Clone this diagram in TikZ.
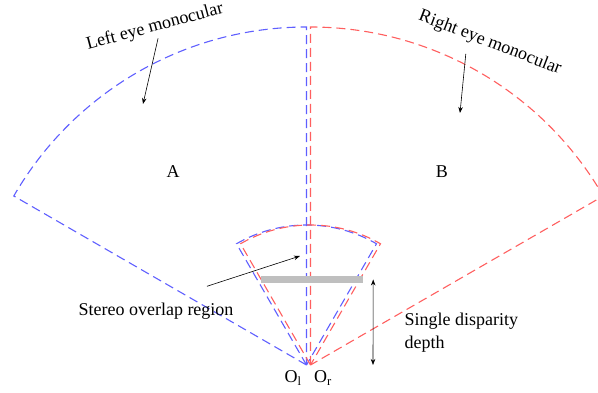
\documentclass[tikz,border=0pt]{standalone}
\usepackage{fontspec}
\setmainfont{Liberation Serif}
\usetikzlibrary{arrows.meta}
\definecolor{lefteye}{RGB}{95,95,255}
\definecolor{righteye}{RGB}{255,95,95}

\begin{document}
\begin{tikzpicture}[x=1pt,y=1pt,
  lbl/.style={font=\fontsize{18}{23}\selectfont},
  fov/.style={dash pattern=on 9pt off 5pt,line width=1.1pt},
  ptr/.style={-{Stealth[length=6pt,width=4.5pt]},line width=0.6pt}]
  \useasboundingbox (0,0) rectangle (598,393);
  \coordinate (ol) at (306.5,28);
  \coordinate (or) at (310.5,28);
  % monocular fields
  \draw[fov,lefteye] (ol) -- ++(150:338) arc[start angle=150,end angle=90,radius=338] -- cycle;
  \draw[fov,righteye] (or) -- ++(90:338) arc[start angle=90,end angle=30,radius=338] -- cycle;
  % overlap fields
  \draw[fov,lefteye] (ol) -- ++(120:140) arc[start angle=120,end angle=60,radius=140] -- cycle;
  \draw[fov,righteye] (or) -- ++(120:140) arc[start angle=120,end angle=60,radius=140] -- cycle;
  \node[fill=black!25,inner sep=0pt,minimum width=102pt,minimum height=7pt] (bar) at (312,113.5){};
  % labels
  \node[lbl,rotate=15] (lefttxt) at (155,366){Left eye monocular};
  \node[lbl,rotate=-21] (righttxt) at (490,350){Right eye monocular};
  \node[lbl] (A) at (173,221){A};
  \node[lbl] (B) at (442,221){B};
  \node[lbl] (overlap) at (156,82){Stereo overlap region};
  \node[lbl,align=left,anchor=west] (depth) at (401,60){Single disparity\\depth};
  \node[lbl] (oleft) at (293,15){O\textsubscript{l}};
  \node[lbl] (oright) at (323,15){O\textsubscript{r}};
  % pointers
  \coordinate (leftfield) at (143,289);
  \coordinate (rightfield) at (460,280);
  \coordinate (ovfield) at (300,137);
  \coordinate (dbot) at (373,28);
  \draw[ptr] (lefttxt.south) -- (leftfield);
  \draw[ptr] ([xshift=-20pt]righttxt.south) -- (rightfield);
  \draw[ptr] ([xshift=51pt,yshift=13pt]overlap.north) -- (ovfield);
  \draw[{Stealth[length=6pt,width=4.5pt]}-{Stealth[length=6pt,width=4.5pt]},line width=0.6pt] ([xshift=10pt]bar.east) -- (dbot);
\end{tikzpicture}
\end{document}
